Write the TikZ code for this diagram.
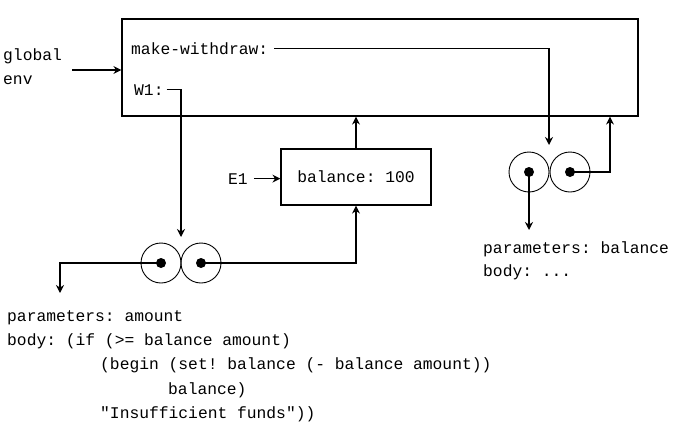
\documentclass[tikz,border=0pt]{standalone}
\usepackage{fontspec}
\setmonofont{Liberation Mono}
\usetikzlibrary{arrows.meta}

\begin{document}
\begin{tikzpicture}[x=1pt,y=-1pt,
  frame/.style={draw,line width=1.2pt,inner sep=0pt,font=\ttfamily\fontsize{16.3}{20}\selectfont},
  txt/.style={font=\ttfamily\fontsize{16.3}{20}\selectfont,inner sep=0pt,anchor=base west},
  cell/.style={circle,draw,line width=0.9pt,minimum size=40pt,inner sep=0pt},
  dot/.style={circle,fill,minimum size=10pt,inner sep=0pt},
  arrow/.style={-{Stealth[length=8pt,width=8pt]},line width=1.3pt}
]
  \useasboundingbox (0,0) rectangle (686,426);

  % global environment
  \node[frame,minimum width=516pt,minimum height=97pt] (genv) at (380,67.5) {};
  \node[txt] (mw) at (131,54) {make-withdraw:};
  \node[txt] (w1) at (134,95) {W1:};
  \node[txt] (glob) at (3,60) {global};
  \node[txt] (env) at (3,84) {env};
  \coordinate (gin) at (72,70);
  \draw[arrow] (gin) -- (gin -| genv.west);

  % E1
  \node[frame,minimum width=150pt,minimum height=56pt] (e1) at (356,177) {balance: 100};
  \node[txt] (e1lab) at (228,184) {E1};
  \draw[arrow] ([xshift=6pt]e1lab.east) -- (e1lab.east -| e1.west);
  \draw[arrow] (e1.north) -- (e1.north |- genv.south);

  % procedure object for W1
  \node[cell] (wa) at (161,263) {};
  \node[cell] (wb) at (201,263) {};
  \node[dot] (wadot) at (wa) {};
  \node[dot] (wbdot) at (wb) {};
  \coordinate (wtop) at (181,237);
  \coordinate (atop) at (60,293);
  \draw[arrow] ([xshift=3pt]w1.east) -| (wtop);
  \draw[arrow] (wadot.center) -| (atop);
  \draw[arrow] (wbdot.center) -| (e1.south);
  \node[txt] (apar) at (7,321) {parameters: amount};
  \node[txt] (abody) at (7,345) {body: (if (>= balance amount)};
  \node[txt] (abody2) at (100,369) {(begin (set! balance (- balance amount))};
  \node[txt] (abody3) at (168,394) {balance)};
  \node[txt] (abody4) at (100,418) {"Insufficient funds"))};

  % procedure object for make-withdraw
  \node[cell] (ba) at (529,172) {};
  \node[cell] (bb) at (570,172) {};
  \node[dot] (badot) at (ba) {};
  \node[dot] (bbdot) at (bb) {};
  \coordinate (mtop) at (549,145);
  \coordinate (bret) at (610,0);
  \coordinate (btop) at (529,230);
  \draw[arrow] ([xshift=6pt]mw.east) -| (mtop);
  \draw[arrow] (bbdot.center) -| (bret |- genv.south);
  \draw[arrow] (badot.center) -- (btop);
  \node[txt] (bpar) at (483,253) {parameters: balance};
  \node[txt] (bbody) at (483,276) {body: ...};
\end{tikzpicture}
\end{document}
